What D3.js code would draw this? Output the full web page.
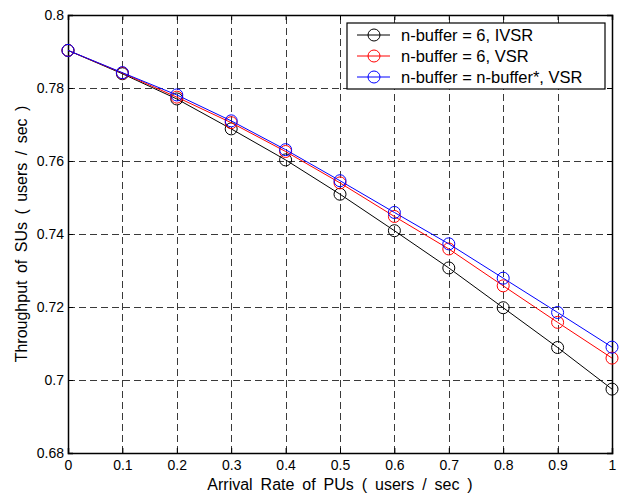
<!DOCTYPE html>
<html>
<head>
<meta charset="utf-8">
<script src="https://cdn.jsdelivr.net/npm/d3@7"></script>
<style>
  body { margin: 0; background: #fff; }
  svg text { font-family: "Liberation Sans", Arial, Helvetica, sans-serif; fill: #000; }
</style>
</head>
<body>
<div id="chart"></div>
<script>
// data
const arrivalRate = [0, 0.1, 0.2, 0.3, 0.4, 0.5, 0.6, 0.7, 0.8, 0.9, 1.0];
const ivsrBuf6 = [0.7903, 0.7839, 0.7770, 0.7688, 0.7603, 0.7509, 0.7409, 0.7307, 0.7198, 0.7089, 0.6975];
const vsrBuf6 = [0.7903, 0.7841, 0.7775, 0.7705, 0.7626, 0.7540, 0.7448, 0.7359, 0.7258, 0.7158, 0.7060];
const vsrBufOpt = [0.7903, 0.7842, 0.7781, 0.7710, 0.7631, 0.7546, 0.7459, 0.7373, 0.7279, 0.7185, 0.7090];
const seriesNames = ["n-buffer = 6, IVSR", "n-buffer = 6, VSR", "n-buffer = n-buffer*, VSR"];
const seriesColors = ["#000000", "#ff0000", "#0000ff"];
const xTicks = [0, 0.1, 0.2, 0.3, 0.4, 0.5, 0.6, 0.7, 0.8, 0.9, 1];
const yTicks = [0.68, 0.7, 0.72, 0.74, 0.76, 0.78, 0.8];

const width = 620, height = 495;
const margin = { left: 68, right: 8, top: 15, bottom: 42 };

const svg = d3.select("#chart").append("svg")
    .attr("width", width)
    .attr("height", height);

const x = d3.scaleLinear().domain([0, 1]).range([margin.left, width - margin.right]);
const y = d3.scaleLinear().domain([0.68, 0.8]).range([height - margin.bottom, margin.top]);

// dashed grid
svg.append("g").selectAll("line.vgrid")
    .data(xTicks.slice(1, -1))
    .enter().append("line")
    .attr("x1", d => Math.round(x(d)) + 0.5).attr("x2", d => Math.round(x(d)) + 0.5)
    .attr("y1", y(0.68)).attr("y2", y(0.8))
    .attr("stroke", "#3a3a3a").attr("stroke-width", 1)
    .attr("stroke-dasharray", "7,4");

svg.append("g").selectAll("line.hgrid")
    .data(yTicks.slice(1, -1))
    .enter().append("line")
    .attr("x1", x(0)).attr("x2", x(1))
    .attr("y1", d => Math.round(y(d)) + 0.5).attr("y2", d => Math.round(y(d)) + 0.5)
    .attr("stroke", "#3a3a3a").attr("stroke-width", 1)
    .attr("stroke-dasharray", "7,4");

// axes with inward ticks, MATLAB style box
const xAxis = d3.axisBottom(x).tickValues(xTicks).tickSize(-5).tickPadding(7)
    .tickFormat(d => d === 0 ? "0" : d === 1 ? "1" : d3.format(".1f")(d));
const yAxis = d3.axisLeft(y).tickValues(yTicks).tickSize(-5).tickPadding(4)
    .tickFormat(d => d === 0.8 ? "0.8" : d === 0.7 ? "0.7" : d3.format(".2f")(d));

const gx = svg.append("g").attr("transform", `translate(0,${y(0.68)})`).call(xAxis);
const gy = svg.append("g").attr("transform", `translate(${x(0)},0)`).call(yAxis);
svg.append("g").attr("transform", `translate(0,${y(0.8)})`)
    .call(d3.axisTop(x).tickValues(xTicks).tickSize(-5).tickFormat(""));
svg.append("g").attr("transform", `translate(${x(1)},0)`)
    .call(d3.axisRight(y).tickValues(yTicks).tickSize(-5).tickFormat(""));

svg.selectAll(".domain").attr("stroke", "#000").attr("stroke-width", 1.5);
svg.selectAll(".tick line").attr("stroke", "#000");
svg.selectAll(".tick text").style("font-size", "14px")
    .style("font-family", "'Liberation Sans', Arial, sans-serif");

// lines + circle markers
const allSeries = [ivsrBuf6, vsrBuf6, vsrBufOpt];
const line = d3.line().x((d, i) => x(arrivalRate[i])).y(d => y(d));

allSeries.forEach((vals, s) => {
    const g = svg.append("g");
    g.append("path")
        .datum(vals)
        .attr("d", line)
        .attr("fill", "none")
        .attr("stroke", seriesColors[s])
        .attr("stroke-width", 1);
    g.selectAll("circle")
        .data(vals)
        .enter().append("circle")
        .attr("cx", (d, i) => x(arrivalRate[i]))
        .attr("cy", d => y(d))
        .attr("r", 6)
        .attr("fill", "none")
        .attr("stroke", seriesColors[s])
        .attr("stroke-width", 1);
});

// axis titles
svg.append("text")
    .attr("x", (x(0) + x(1)) / 2)
    .attr("y", 490)
    .attr("text-anchor", "middle")
    .style("font-size", "16px")
    .style("word-spacing", "3.5px")
    .text("Arrival Rate of PUs ( users / sec )");

svg.append("text")
    .attr("transform", `translate(27,${(y(0.68) + y(0.8)) / 2}) rotate(-90)`)
    .attr("text-anchor", "middle")
    .style("font-size", "16px")
    .style("word-spacing", "3px")
    .text("Throughput of SUs ( users / sec )");

// legend
const legend = svg.append("g").attr("transform", "translate(347,23)");
legend.append("rect")
    .attr("width", 258).attr("height", 66)
    .attr("fill", "#fff").attr("stroke", "#000").attr("stroke-width", 1.2);

seriesNames.forEach((name, i) => {
    const ly = 12 + i * 21;
    legend.append("line")
        .attr("x1", 10).attr("x2", 43)
        .attr("y1", ly).attr("y2", ly)
        .attr("stroke", seriesColors[i]);
    legend.append("circle")
        .attr("cx", 27).attr("cy", ly).attr("r", 6)
        .attr("fill", "none").attr("stroke", seriesColors[i]);
    legend.append("text")
        .attr("x", 54).attr("y", ly)
        .attr("dy", "0.35em")
        .style("font-size", "16.5px")
        .text(name);
});
</script>
</body>
</html>
